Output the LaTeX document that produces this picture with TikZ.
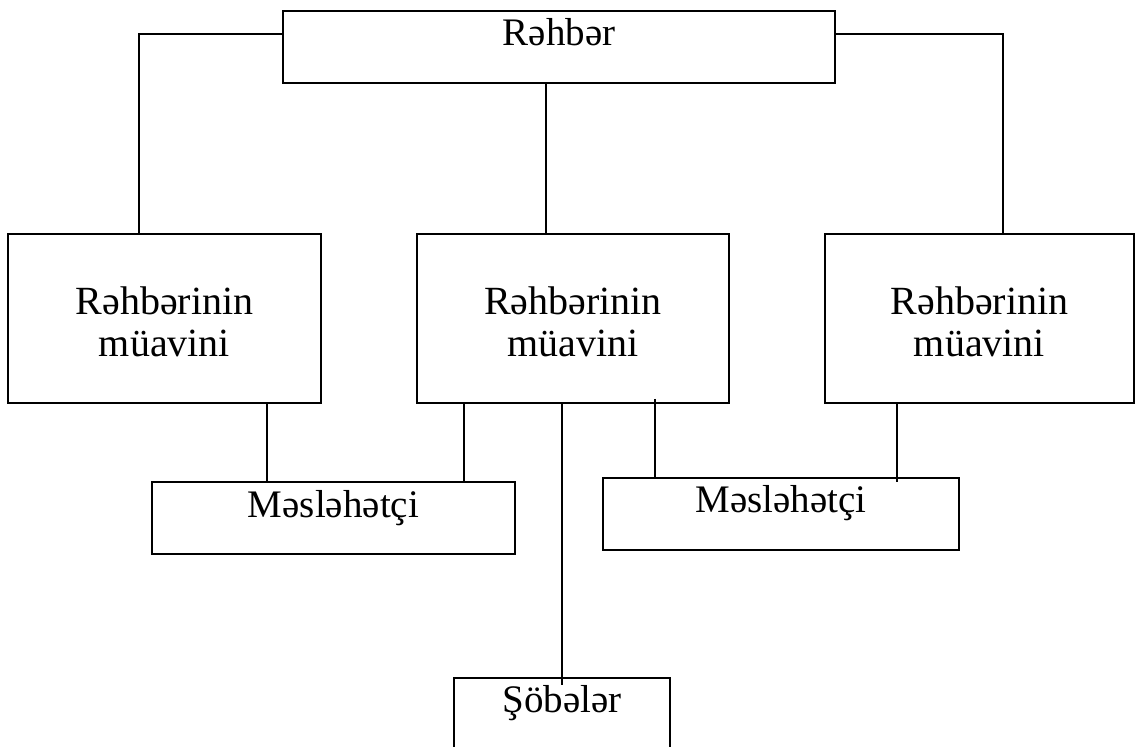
\documentclass[tikz,border=0pt]{standalone}
\usepackage{fontspec}
\setmainfont{Liberation Serif}
\begin{document}
\begin{tikzpicture}[x=1pt,y=-1pt,line width=1.5pt,
  box/.style={draw,rectangle,inner sep=0pt,font=\fontsize{39}{42}\selectfont},
  bigbox/.style={draw,rectangle,inner sep=0pt,align=center,text height=75pt,text depth=0pt,font=\fontsize{40}{42}\selectfont},
  link/.style={draw,line width=1.5pt}]
\clip (0,0) rectangle (1136,747);
\fill[white] (0,0) rectangle (1136,747);
% top box
\node[box,anchor=north,minimum width=552pt,text height=35pt,text depth=37pt] (top) at (559,10) {Rəhbər};
% deputies
\node[bigbox,minimum width=313pt,minimum height=169pt] (lm) at (164.5,318.5) {Rəhbərinin\\müavini};
\node[bigbox,minimum width=312pt,minimum height=169pt] (mm) at (573,318.5) {Rəhbərinin\\müavini};
\node[bigbox,minimum width=309pt,minimum height=169pt] (rm) at (979.5,318.5) {Rəhbərinin\\müavini};
% advisers
\node[box,anchor=north,minimum width=363pt,text height=36pt,text depth=36pt] (ml) at (333.5,481) {Məsləhətçi};
\node[box,anchor=north,minimum width=356pt,text height=35pt,text depth=37pt] (mr) at (781,477) {Məsləhətçi};
% departments (cut off at bottom)
\node[box,anchor=north,minimum width=216pt,text height=35pt,text depth=60pt] (sb) at (562,677) {Şöbələr};
% connectors
\draw[link] ([yshift=13pt]top.west) -| ([xshift=-25.5pt]lm.north);
\draw[link] ([yshift=13pt]top.east) -| ([xshift=23.5pt]rm.north);
\draw[link] ([xshift=-13pt]top.south) -- ([xshift=-13pt]top.south |- mm.north);
\draw[link] ([xshift=102.5pt]lm.south) -- ([xshift=102.5pt]lm.south |- ml.north);
\draw[link] ([xshift=-109pt]mm.south) -- ([xshift=-109pt]mm.south |- ml.north);
\draw[link] (mm.south -| sb.north) -- ([yshift=-8pt]sb.north);
\draw[link] ([xshift=82pt,yshift=5pt]mm.south) -- ([xshift=82pt,yshift=-1pt]mm.south |- mr.north);
\draw[link] ([xshift=-82.5pt]rm.south) -- ([xshift=-82.5pt,yshift=-5pt]rm.south |- mr.north);
\end{tikzpicture}
\end{document}
